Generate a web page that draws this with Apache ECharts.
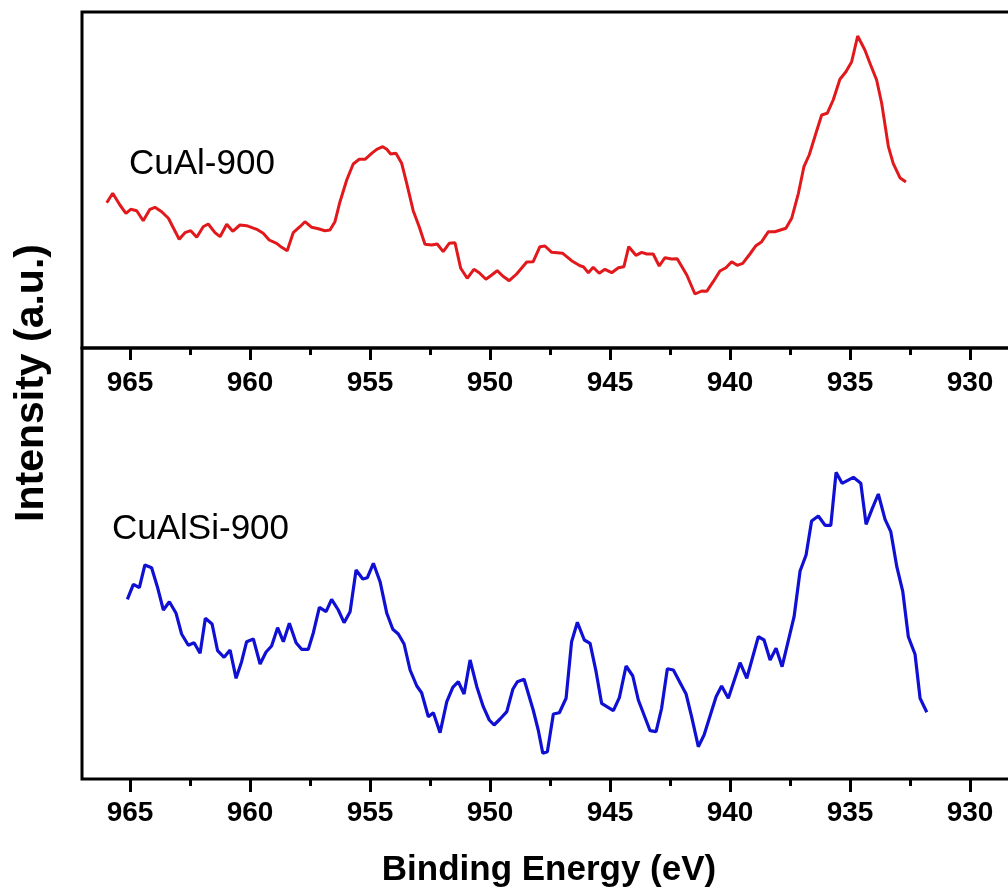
<!DOCTYPE html>
<html>
<head>
<meta charset="utf-8">
<script src="https://cdn.jsdelivr.net/npm/echarts@6/dist/echarts.min.js"></script>
<style>
html,body{margin:0;padding:0;background:#fff;overflow:hidden;}
#chart{width:1100px;height:892px;}
</style>
</head>
<body>
<div id="chart"></div>
<script>
// ---- data ----
var sampleNames = ['CuAl-900', 'CuAlSi-900'];
var xTitle = 'Binding Energy (eV)';
var yTitle = 'Intensity (a.u.)';
var majorTicks = [965, 960, 955, 950, 945, 940, 935, 930];
var minorTicks = [962.5, 957.5, 952.5, 947.5, 942.5, 937.5, 932.5];

var redE = [965.97,965.72,965.42,965.17,964.97,964.72,964.45,964.17,963.96,963.68,
963.40,962.95,962.71,962.47,962.22,961.95,961.74,961.46,961.25,960.97,
960.72,960.42,960.14,959.72,959.45,959.20,958.89,958.68,958.45,958.20,
957.92,957.71,957.43,957.15,956.88,956.67,956.46,956.25,955.97,955.70,
955.45,955.21,954.93,954.72,954.47,954.30,954.14,953.92,953.68,953.47,
953.20,952.95,952.71,952.43,952.20,951.95,951.70,951.46,951.22,950.95,
950.67,950.45,950.17,949.93,949.70,949.47,949.20,948.89,948.47,948.20,
947.92,947.71,947.43,946.97,946.60,946.25,946.11,945.90,945.70,945.45,
945.21,944.93,944.65,944.42,944.22,943.92,943.68,943.47,943.20,942.95,
942.71,942.43,942.20,941.80,941.46,941.18,940.97,940.70,940.42,940.17,
939.93,939.70,939.47,939.17,938.92,938.68,938.40,938.13,937.67,937.43,
937.15,936.92,936.70,936.42,936.18,935.95,935.70,935.42,935.17,934.93,
934.68,934.38,934.14,933.89,933.68,933.40,933.20,932.92,932.67];
var redI = [144.3,153.7,142,133.7,137.7,136.3,126.3,137.7,139.7,135.3,
128.7,107.7,114.3,116.3,109.7,120.3,123,114.3,110.3,122.7,
115.7,122,121.3,117.7,113.7,107,103.7,99.7,96.3,114.3,
120.3,125.3,119.7,118.3,116.3,117,125.3,145.3,167,183,
187.7,187.7,193.7,197.7,200.3,197.7,193,193.7,183.7,163.7,
136.3,120.3,102.7,102,103,95.3,103.7,104.3,78.7,68.7,
77.7,74.3,67.7,72,76.3,71,66.3,73,85,85.3,
100.3,101,94.7,93.7,86.3,81.3,80.3,74.3,79.7,73.7,
77.7,74.3,79.3,80.3,100.3,91.7,94.7,93,93,81,
89.3,88,88.3,72,53,56,55.7,65.3,76,79.3,
85.3,81.7,83.7,93,101.3,105.3,115.3,115.3,118.7,128.7,
153.7,180.3,192,213.7,232,233.7,247,267.7,275.3,285.3,
311,297,282,267,243.7,200.3,183.7,169.3,165];

var blueE = [965.11,964.86,964.61,964.38,964.10,963.86,963.61,963.36,963.08,962.85,
962.57,962.33,962.08,961.86,961.58,961.35,961.08,960.83,960.58,960.35,
960.14,959.86,959.58,959.33,959.10,958.85,958.61,958.36,958.08,957.85,
957.57,957.36,957.11,956.83,956.60,956.32,956.08,955.83,955.58,955.30,
955.11,954.86,954.58,954.30,954.05,953.82,953.58,953.33,953.05,952.85,
952.57,952.36,952.08,951.80,951.55,951.32,951.08,950.83,950.55,950.28,
950.03,949.83,949.58,949.30,949.05,948.86,948.58,948.20,947.99,947.80,
947.61,947.36,947.11,946.83,946.60,946.36,946.07,945.83,945.58,945.35,
944.86,944.61,944.33,944.05,943.82,943.33,943.08,942.85,942.61,942.36,
941.83,941.60,941.32,941.08,940.58,940.35,940.07,939.58,939.30,938.82,
938.58,938.33,938.08,937.83,937.33,937.08,936.83,936.60,936.32,936.04,
935.80,935.58,935.33,934.86,934.55,934.33,934.07,933.82,933.54,933.30,
933.05,932.80,932.57,932.29,932.08,931.80];
var blueI = [179.7,194.7,191.3,214,211.3,192.3,169,177.3,165.7,145,
133.7,136.3,125.7,160.7,155,128.3,121.7,129,100.7,117.3,
137.3,140,115,127,133,151.3,137.3,155.7,136.3,129.7,
129.7,146.3,171.7,167.3,179.7,169,156.3,167.3,209,200,
201.3,215.7,197.3,165.7,149.7,145,135,109,93,86.3,
62.3,66.3,46.3,77.3,91.7,97.3,85,119,92.3,72.3,
59,54,60,67.3,89.7,97.3,99.7,69,49,25.7,
27.3,65,66.3,80.7,137.3,156.7,139,135.7,107.3,75.7,
68.3,81.3,113,103,79,48.3,47.3,70.7,110.3,109,
85,62.3,32.3,44,82.3,93,80.7,116.3,100.7,142.3,
139,119,130.7,112.3,162.3,208,224,258,263,253.7,
253.7,306.7,295.7,301.7,295.7,254.7,270.7,285,259.7,247.3,
212.3,187.3,142.3,124.7,80.7,66.7];

// ---- chart ----
var FONT = 'Arial, "Liberation Sans", sans-serif';
function pairs(xs, ys) { return xs.map(function (x, i) { return [x, ys[i]]; }); }

var X_MIN = 928, X_MAX = 967;
function mainX(gridIndex, margin) {
  return {
    type: 'value', gridIndex: gridIndex, min: X_MIN, max: X_MAX, inverse: true,
    axisLine: { show: false },
    splitLine: { show: false },
    axisTick: { show: true, customValues: majorTicks, length: 13, lineStyle: { color: '#000', width: 3 } },
    axisLabel: { show: true, customValues: majorTicks, margin: margin, color: '#000',
      fontFamily: FONT, fontWeight: 'bold', fontSize: 28 }
  };
}
function minorX(gridIndex) {
  return {
    type: 'value', gridIndex: gridIndex, min: X_MIN, max: X_MAX, inverse: true, position: 'bottom',
    axisLine: { show: false },
    splitLine: { show: false },
    axisTick: { show: true, customValues: minorTicks, length: 7, lineStyle: { color: '#000', width: 3 } },
    axisLabel: { show: false }
  };
}
function plainY(gridIndex, min, max) {
  return {
    type: 'value', gridIndex: gridIndex, min: min, max: max,
    axisLine: { show: false }, axisTick: { show: false },
    axisLabel: { show: false }, splitLine: { show: false }
  };
}

var chart = echarts.init(document.getElementById('chart'), null, { renderer: 'canvas' });
chart.setOption({
  backgroundColor: '#fff',
  animation: false,
  grid: [
    { left: 82, top: 12, width: 936, height: 336, show: true, borderColor: '#000', borderWidth: 3, backgroundColor: 'transparent' },
    { left: 82, top: 348, width: 936, height: 431, show: true, borderColor: '#000', borderWidth: 3, backgroundColor: 'transparent' }
  ],
  xAxis: [mainX(0, 21), minorX(0), mainX(1, 20), minorX(1)],
  yAxis: [plainY(0, -1, 335), plainY(1, 0, 431)],
  series: [
    { type: 'line', name: sampleNames[0], xAxisIndex: 0, yAxisIndex: 0, data: pairs(redE, redI),
      showSymbol: false, symbol: 'none', lineStyle: { color: '#e2191c', width: 3 }, itemStyle: { color: '#e2191c' } },
    { type: 'line', name: sampleNames[1], xAxisIndex: 2, yAxisIndex: 1, data: pairs(blueE, blueI),
      showSymbol: false, symbol: 'none', lineStyle: { color: '#1010d4', width: 3.2 }, itemStyle: { color: '#1010d4' } }
  ],
  graphic: [
    { type: 'text', left: 129, top: 147, style: { text: sampleNames[0], fill: '#000', font: '35px ' + FONT } },
    { type: 'text', left: 112, top: 512, style: { text: sampleNames[1], fill: '#000', font: '35px ' + FONT } },
    { type: 'text', x: 549, y: 870, style: { text: xTitle, fill: '#000', font: 'bold 35px ' + FONT,
      textAlign: 'center', textVerticalAlign: 'middle' } },
    { type: 'text', x: 32, y: 383, rotation: Math.PI / 2, style: { text: yTitle, fill: '#000', font: 'bold 41px ' + FONT,
      textAlign: 'center', textVerticalAlign: 'middle' } }
  ]
});
</script>
</body>
</html>
